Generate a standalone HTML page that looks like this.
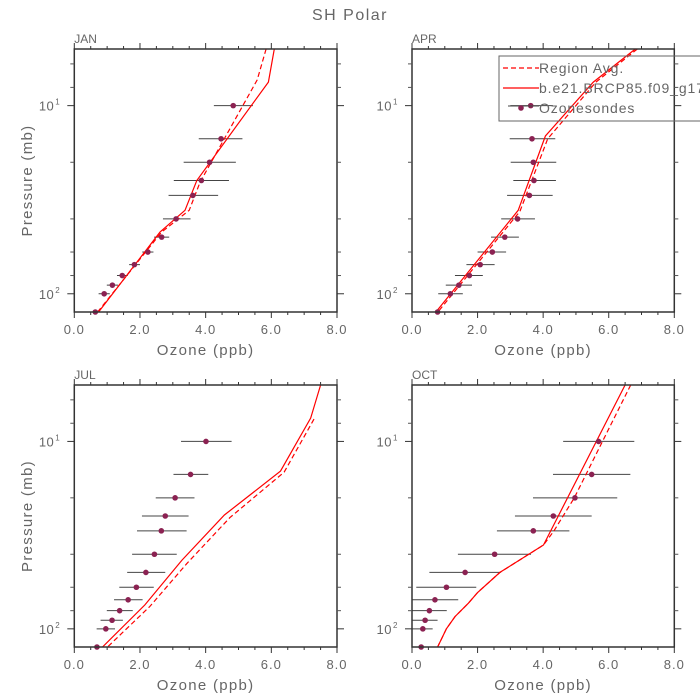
<!DOCTYPE html>
<html><head><meta charset="utf-8"><style>
html,body{margin:0;padding:0;background:#fff}
svg{display:block;font-family:"Liberation Sans",sans-serif}
</style></head><body>
<svg id="chart" width="700" height="700" viewBox="0 0 700 700" xmlns="http://www.w3.org/2000/svg">
<rect width="700" height="700" fill="#fff"/>
<text x="350" y="20" text-anchor="middle" font-size="16" letter-spacing="1.5" fill="#666">SH Polar</text>
<g id="panels"></g>
<g id="legend">
<rect x="499" y="56" width="220" height="65" fill="none" stroke="#666" stroke-width="1"/>
<line x1="503" y1="68" x2="539" y2="68" stroke="#f00" stroke-width="1.2" stroke-dasharray="5,3"/>
<text x="539" y="73" font-size="14" letter-spacing="0.9" fill="#666">Region Avg.</text>
<line x1="503" y1="88" x2="539" y2="88" stroke="#f00" stroke-width="1.2"/>
<text x="539" y="93" font-size="14" letter-spacing="0.9" fill="#666">b.e21.BRCP85.f09_g17</text>
<line x1="508" y1="106" x2="539" y2="106" stroke="#444" stroke-width="1"/>
<circle cx="521" cy="108" r="2.8" fill="#8b2252"/>
<text x="539" y="113" font-size="14" letter-spacing="0.9" fill="#666">Ozonesondes</text>
</g>
</svg>
<script>
// Observation pressure levels (mb)
const obsP = [10,15,20,25,30,40,50,60,70,80,90,100,125];
// JAN
const janObs = [4.84,4.47,4.12,3.87,3.61,3.10,2.66,2.24,1.83,1.46,1.16,0.91,0.64];
const janLo  = [4.25,3.79,3.33,3.03,2.87,2.70,2.43,2.07,1.67,1.30,0.99,0.74,0.64];
const janHi  = [5.44,5.12,4.92,4.71,4.38,3.54,2.89,2.41,2.00,1.63,1.33,1.08,0.64];
const janModelP = [5,7.5,25,36,47,125];
const janModel  = [6.09,5.91,3.73,3.37,2.61,0.74];
const janAvgP   = [5,7.3,25.5,36,47,125];
const janAvg    = [5.84,5.57,3.83,3.50,2.66,0.71];
// APR
const aprObs = [3.62,3.66,3.70,3.72,3.58,3.22,2.83,2.45,2.08,1.75,1.43,1.17,0.78];
const aprLo  = [3.00,2.98,3.01,3.09,2.90,2.72,2.41,2.00,1.66,1.31,1.03,0.80,0.78];
const aprHi  = [4.30,4.37,4.40,4.39,4.29,3.75,3.26,2.87,2.52,2.16,1.83,1.55,0.78];
const aprModelP = [5,7.5,14.5,36,125];
const aprModel  = [6.81,5.53,4.07,3.24,0.73];
const aprAvgP   = [5,7.5,15,36.5,125];
const aprAvg    = [6.87,5.61,4.14,3.29,0.79];
// JUL
const julObs = [4.01,3.54,3.07,2.77,2.65,2.44,2.18,1.89,1.64,1.38,1.15,0.96,0.69];
const julLo  = [3.25,3.02,2.48,2.06,1.91,1.76,1.61,1.37,1.21,0.99,0.80,0.68,0.69];
const julHi  = [4.79,4.08,3.66,3.48,3.42,3.12,2.77,2.42,2.08,1.78,1.48,1.24,0.69];
const julModelP = [5,7.5,14.4,24.7,43,74.5,125];
const julModel  = [7.50,7.20,6.28,4.57,3.28,2.15,0.86];
const julAvgP   = [7.6,14.6,25.5,45,76,125];
const julAvg    = [7.30,6.39,4.74,3.42,2.30,1.01];
// OCT
const octObs = [5.69,5.48,4.97,4.31,3.70,2.52,1.62,1.05,0.70,0.53,0.40,0.33,0.28];
const octLo  = [4.61,4.30,3.69,3.14,2.59,1.40,0.53,0.13,0.00,0.00,0.00,0.00,0.28];
const octHi  = [6.78,6.66,6.26,5.48,4.80,3.63,2.71,1.96,1.41,1.06,0.78,0.63,0.28];
const octModelP = [5,35.7,50,64,73,86,100,125];
const octModel  = [6.50,4.01,2.68,2.00,1.72,1.31,1.05,0.78];
const octAvgP   = [5,20,30,35.7,50,64,73,86,100,125];
const octAvg    = [6.67,4.95,4.33,4.01,2.68,2.00,1.72,1.31,1.05,0.78];

const xTicks = [0,2,4,6,8];
const xTickLabels = ["0.0","2.0","4.0","6.0","8.0"];
const yMinor = [6,8,20,40,60,80];

const panels = [
  {name:"jan",label:"JAN",x0:74.3,x1:337,y0:49,y1:312,obs:janObs,lo:janLo,hi:janHi,mp:janModelP,m:janModel,ap:janAvgP,a:janAvg},
  {name:"apr",label:"APR",x0:412,x1:674.3,y0:49,y1:312,obs:aprObs,lo:aprLo,hi:aprHi,mp:aprModelP,m:aprModel,ap:aprAvgP,a:aprAvg},
  {name:"jul",label:"JUL",x0:74.3,x1:337,y0:385,y1:647,obs:julObs,lo:julLo,hi:julHi,mp:julModelP,m:julModel,ap:julAvgP,a:julAvg},
  {name:"oct",label:"OCT",x0:412,x1:674.3,y0:385,y1:647,obs:octObs,lo:octLo,hi:octHi,mp:octModelP,m:octModel,ap:octAvgP,a:octAvg}
];
const NS="http://www.w3.org/2000/svg";
const root=document.getElementById("panels");
function mk(tag,attrs,parent){const e=document.createElementNS(NS,tag);for(const k in attrs)e.setAttribute(k,attrs[k]);parent.appendChild(e);return e;}
const PTOP=5, PBOT=125;
panels.forEach(P=>{
  const g=mk("g",{},root);
  
  
  const xs=v=>P.x0+(P.x1-P.x0)*v/8;
  const ys=p=>P.y0+(P.y1-P.y0)*(Math.log10(p)-Math.log10(PTOP))/(Math.log10(PBOT)-Math.log10(PTOP));
  const clip="clip-"+P.name;
  const cp=mk("clipPath",{id:clip},g);
  mk("rect",{x:P.x0,y:P.y0,width:P.x1-P.x0,height:P.y1-P.y0},cp);
  const lt=mk("text",{x:P.x0,y:P.y0-6,"font-size":12,fill:"#666"},g);
  lt.textContent=P.label;
  
  
  const dg=mk("g",{"clip-path":"url(#"+clip+")"},g);
  
  
  obsP.forEach((p,i)=>{
    const ln=mk("line",{x1:xs(P.lo[i]),x2:xs(P.hi[i]),y1:ys(p),y2:ys(p),stroke:"#444","stroke-width":1},dg);
    
    
  });
  const pts=(ps,vs)=>ps.map((p,i)=>xs(vs[i]).toFixed(1)+","+ys(p).toFixed(1)).join(" ");
  const av=mk("polyline",{points:pts(P.ap,P.a),fill:"none",stroke:"#f00","stroke-width":1.2,"stroke-dasharray":"5,3"},dg);
  
  
  const ml=mk("polyline",{points:pts(P.mp,P.m),fill:"none",stroke:"#f00","stroke-width":1.2},dg);
  
  
  obsP.forEach((p,i)=>{
    const c=mk("circle",{cx:xs(P.obs[i]),cy:ys(p),r:2.8,fill:"#8b2252"},g);
    
    
  });
  const fr=mk("rect",{x:P.x0,y:P.y0,width:P.x1-P.x0,height:P.y1-P.y0,fill:"none",stroke:"#333","stroke-width":1.5},g);
  
  
  for(let v=0;v<=8.001;v+=0.5){
    const major=Math.abs(v-Math.round(v/2)*2)<1e-6;
    const L=major?6:3;
    mk("line",{x1:xs(v),x2:xs(v),y1:P.y0,y2:P.y0-L,stroke:"#333","stroke-width":1},g);
    mk("line",{x1:xs(v),x2:xs(v),y1:P.y1,y2:P.y1+L,stroke:"#333","stroke-width":1},g);
  }
  xTicks.forEach((v,i)=>{
    const t=mk("text",{x:xs(v),y:P.y1+22,"text-anchor":"middle","font-size":13,"letter-spacing":1,fill:"#666"},g);
    t.textContent=xTickLabels[i];
    
    
  });
  const xt=mk("text",{x:(P.x0+P.x1)/2,y:P.y1+43,"text-anchor":"middle","font-size":15,"letter-spacing":1.3,fill:"#666"},g);
  xt.textContent="Ozone (ppb)";
  
  
  [10,100].forEach(p=>{
    mk("line",{x1:P.x0,x2:P.x0-7,y1:ys(p),y2:ys(p),stroke:"#333","stroke-width":1},g);
    mk("line",{x1:P.x1,x2:P.x1+7,y1:ys(p),y2:ys(p),stroke:"#333","stroke-width":1},g);
    const t=mk("text",{x:P.x0-20,y:ys(p)+5,"text-anchor":"end","font-size":13,"letter-spacing":0.5,fill:"#666"},g);
    t.textContent="10";
    
    
    const s=mk("text",{x:P.x0-19,y:ys(p)-1,"font-size":8,fill:"#666"},g);
    s.textContent=p===10?"1":"2";
  });
  yMinor.forEach(p=>{
    mk("line",{x1:P.x0,x2:P.x0-4,y1:ys(p),y2:ys(p),stroke:"#555","stroke-width":1},g);
    mk("line",{x1:P.x1,x2:P.x1+4,y1:ys(p),y2:ys(p),stroke:"#555","stroke-width":1},g);
  });
  if(P.x0<100){
    const cy=(P.y0+P.y1)/2;
    const yt=mk("text",{x:32,y:cy,"text-anchor":"middle","font-size":15,"letter-spacing":1.3,fill:"#666",transform:"rotate(-90 32 "+cy+")"},g);
    yt.textContent="Pressure (mb)";
    
    
  }
});
</script>
</body></html>
